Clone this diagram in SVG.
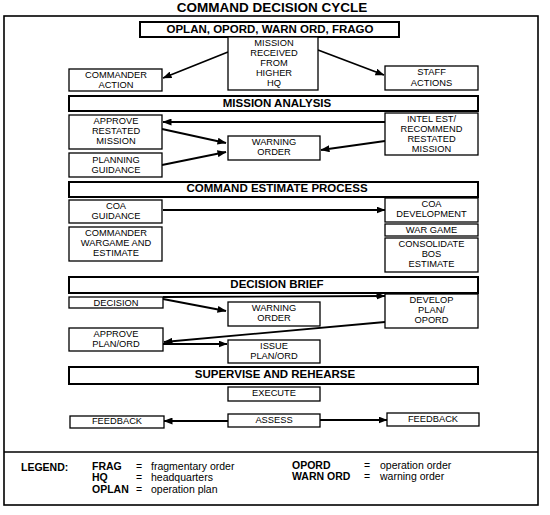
<svg xmlns="http://www.w3.org/2000/svg" width="550" height="515" viewBox="0 0 550 515">
<style>
.frame{fill:none;stroke:#000;stroke-width:1.6}
.box{fill:#fff;stroke:#000;stroke-width:1.3}
.bar{fill:#fff;stroke:#000;stroke-width:2}
.t{font-family:"Liberation Sans",Arial,sans-serif;font-size:9.3px;text-anchor:middle;fill:#000}
.bt{font-family:"Liberation Sans",Arial,sans-serif;font-size:11.5px;font-weight:bold;text-anchor:middle;fill:#000}
.title{font-family:"Liberation Sans",Arial,sans-serif;font-size:13.5px;font-weight:bold;text-anchor:middle;fill:#000}
.lg{font-family:"Liberation Sans",Arial,sans-serif;font-size:10.5px;fill:#000}
.lgb{font-family:"Liberation Sans",Arial,sans-serif;font-size:10.5px;font-weight:bold;fill:#000}
.c{stroke:#000;stroke-width:1.8;fill:none;marker-end:url(#ah)}
</style>
<defs>
<marker id="ah" markerUnits="userSpaceOnUse" markerWidth="9" markerHeight="7" refX="8.5" refY="3.5" orient="auto">
<path d="M0,0 L9,3.5 L0,7 z" fill="#000"/>
</marker>
</defs>
<rect width="550" height="515" fill="#fff"/>
<text class="title" x="272" y="12">COMMAND DECISION CYCLE</text>
<rect class="frame" x="4" y="16" width="534" height="489"/>
<line x1="4" y1="452" x2="538" y2="452" stroke="#000" stroke-width="1.6"/>

<g id="connectors">
<line class="c" x1="228" y1="52" x2="163" y2="78"/>
<line class="c" x1="318" y1="50" x2="384" y2="75"/>
<line class="c" x1="385" y1="122" x2="163" y2="122"/>
<line class="c" x1="162" y1="129" x2="226" y2="143"/>
<line class="c" x1="162" y1="165" x2="226" y2="152"/>
<line class="c" x1="385" y1="141" x2="321" y2="150"/>
<line class="c" x1="163" y1="210" x2="385" y2="210"/>
<line class="c" x1="163" y1="297" x2="385" y2="296"/>
<line class="c" x1="163" y1="299" x2="226" y2="311"/>
<line class="c" x1="385" y1="322" x2="164" y2="342"/>
<line class="c" x1="163" y1="344" x2="227" y2="344"/>
<line class="c" x1="228" y1="421" x2="164" y2="421"/>
<line class="c" x1="320" y1="420" x2="387" y2="420"/>
</g>

<g id="oplan-bar">
<rect class="bar" x="140" y="22" width="259" height="15"/>
<text class="bt" x="270" y="32.5">OPLAN, OPORD, WARN ORD, FRAGO</text>
</g>
<g id="mission-received">
<rect class="box" x="228" y="37" width="90" height="53"/>
<text class="t" x="274" y="46">MISSION</text>
<text class="t" x="274" y="56">RECEIVED</text>
<text class="t" x="274" y="66">FROM</text>
<text class="t" x="274" y="76">HIGHER</text>
<text class="t" x="274" y="86">HQ</text>
</g>
<g id="commander-action">
<rect class="box" x="69" y="69" width="93" height="22"/>
<text class="t" x="116" y="78">COMMANDER</text>
<text class="t" x="116" y="88">ACTION</text>
</g>
<g id="staff-actions">
<rect class="box" x="385" y="66" width="93" height="24"/>
<text class="t" x="431.5" y="75">STAFF</text>
<text class="t" x="431.5" y="85.5">ACTIONS</text>
</g>
<g id="mission-analysis">
<rect class="bar" x="69" y="96" width="409" height="15"/>
<text class="bt" x="277" y="106.5">MISSION ANALYSIS</text>
</g>
<g id="approve-restated-mission">
<rect class="box" x="69" y="115" width="93" height="34"/>
<text class="t" x="116" y="123.5">APPROVE</text>
<text class="t" x="116" y="133.5">RESTATED</text>
<text class="t" x="116" y="143.5">MISSION</text>
</g>
<g id="planning-guidance">
<rect class="box" x="69" y="153" width="93" height="24"/>
<text class="t" x="116" y="162.5">PLANNING</text>
<text class="t" x="116" y="172.5">GUIDANCE</text>
</g>
<g id="warning-order-1">
<rect class="box" x="228" y="136" width="92" height="24"/>
<text class="t" x="274" y="145">WARNING</text>
<text class="t" x="274" y="155">ORDER</text>
</g>
<g id="intel-est">
<rect class="box" x="385" y="113" width="93" height="42"/>
<text class="t" x="431.5" y="121.5">INTEL EST/</text>
<text class="t" x="431.5" y="131.5">RECOMMEND</text>
<text class="t" x="431.5" y="141.5">RESTATED</text>
<text class="t" x="431.5" y="151.5">MISSION</text>
</g>
<g id="command-estimate-process">
<rect class="bar" x="69" y="182" width="409" height="15"/>
<text class="bt" x="277" y="192">COMMAND ESTIMATE PROCESS</text>
</g>
<g id="coa-guidance">
<rect class="box" x="69" y="200" width="93" height="23"/>
<text class="t" x="116" y="208.5">COA</text>
<text class="t" x="116" y="218.5">GUIDANCE</text>
</g>
<g id="commander-wargame">
<rect class="box" x="69" y="227" width="93" height="34"/>
<text class="t" x="116" y="236">COMMANDER</text>
<text class="t" x="116" y="246">WARGAME AND</text>
<text class="t" x="116" y="256">ESTIMATE</text>
</g>
<g id="coa-development">
<rect class="box" x="385" y="198" width="93" height="24"/>
<text class="t" x="431.5" y="207">COA</text>
<text class="t" x="431.5" y="217">DEVELOPMENT</text>
</g>
<g id="war-game">
<rect class="box" x="385" y="224" width="93" height="12"/>
<text class="t" x="431.5" y="233">WAR GAME</text>
</g>
<g id="consolidate-bos">
<rect class="box" x="385" y="238" width="93" height="34"/>
<text class="t" x="431.5" y="247">CONSOLIDATE</text>
<text class="t" x="431.5" y="257">BOS</text>
<text class="t" x="431.5" y="267">ESTIMATE</text>
</g>
<g id="decision-brief">
<rect class="bar" x="69" y="277" width="409" height="16"/>
<text class="bt" x="277" y="287.5">DECISION BRIEF</text>
</g>
<g id="decision">
<rect class="box" x="69" y="297" width="94" height="11"/>
<text class="t" x="116" y="305.5">DECISION</text>
</g>
<g id="warning-order-2">
<rect class="box" x="228" y="302" width="92" height="24"/>
<text class="t" x="274" y="310.5">WARNING</text>
<text class="t" x="274" y="320.5">ORDER</text>
</g>
<g id="develop-plan">
<rect class="box" x="385" y="294" width="93" height="34"/>
<text class="t" x="431.5" y="303">DEVELOP</text>
<text class="t" x="431.5" y="313">PLAN/</text>
<text class="t" x="431.5" y="323">OPORD</text>
</g>
<g id="approve-plan-ord">
<rect class="box" x="69" y="328" width="94" height="23"/>
<text class="t" x="116" y="337">APPROVE</text>
<text class="t" x="116" y="347">PLAN/ORD</text>
</g>
<g id="issue-plan-ord">
<rect class="box" x="228" y="340" width="92" height="23"/>
<text class="t" x="274" y="348.5">ISSUE</text>
<text class="t" x="274" y="358.5">PLAN/ORD</text>
</g>
<g id="supervise-rehearse">
<rect class="bar" x="69" y="367" width="409" height="17"/>
<text class="bt" x="275" y="378">SUPERVISE AND REHEARSE</text>
</g>
<g id="execute">
<rect class="box" x="228" y="387" width="92" height="14"/>
<text class="t" x="274" y="395.5">EXECUTE</text>
</g>
<g id="feedback-left">
<rect class="box" x="70" y="416" width="94" height="12"/>
<text class="t" x="117" y="424">FEEDBACK</text>
</g>
<g id="assess">
<rect class="box" x="228" y="414" width="92" height="13"/>
<text class="t" x="274" y="422.5">ASSESS</text>
</g>
<g id="feedback-right">
<rect class="box" x="387" y="413" width="92" height="13"/>
<text class="t" x="433" y="421.5">FEEDBACK</text>
</g>

<g id="legend">
<text class="lgb" x="21" y="470.5">LEGEND:</text>
<text class="lgb" x="92" y="469.5">FRAG</text>
<text class="lg" x="136" y="469.5">=</text>
<text class="lg" x="151" y="469.5">fragmentary order</text>
<text class="lgb" x="92" y="481">HQ</text>
<text class="lg" x="136" y="481">=</text>
<text class="lg" x="151" y="481">headquarters</text>
<text class="lgb" x="92" y="492.5">OPLAN</text>
<text class="lg" x="136" y="492.5">=</text>
<text class="lg" x="151" y="492.5">operation plan</text>
<text class="lgb" x="292" y="468.5">OPORD</text>
<text class="lg" x="364" y="468.5">=</text>
<text class="lg" x="380" y="468.5">operation order</text>
<text class="lgb" x="292" y="480">WARN ORD</text>
<text class="lg" x="364" y="480">=</text>
<text class="lg" x="380" y="480">warning order</text>
</g>
</svg>
